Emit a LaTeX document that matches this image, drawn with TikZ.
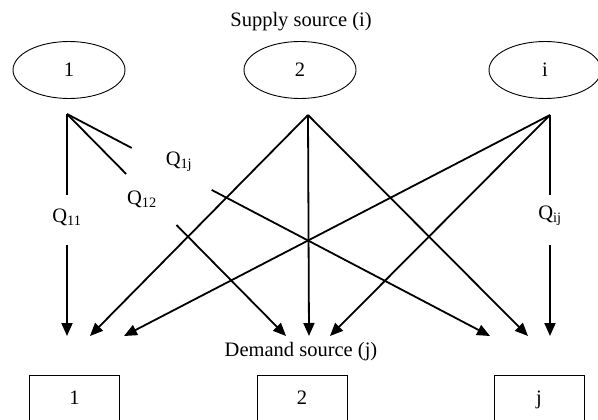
\documentclass[tikz,border=0pt]{standalone}
\usepackage{fontspec}
\setmainfont{Liberation Serif}
\usetikzlibrary{shapes.geometric, arrows.meta, calc}

\begin{document}
\begin{tikzpicture}[x=1pt, y=-1pt, font=\fontsize{20.5}{24}\selectfont]
\tikzstyle{supply} = [ellipse, draw, line width=0.9pt, minimum width=112pt, minimum height=57pt]
\tikzstyle{demand} = [rectangle, draw, line width=1pt, minimum width=90pt, anchor=north, text height=14pt, text depth=20pt, inner ysep=15pt]
\tikzstyle{flow} = [line width=1.8pt]
\tikzstyle{arrow} = [flow, -{Triangle[length=13pt, width=11pt]}]

\clip (0,0) rectangle (598,420);

\node (title) at (301,22) {Supply source (i)};

\node (sup1) [supply] at (69,70) {1};
\node (sup2) [supply] at (300,70) {2};
\node (supi) [supply] at (545,70) {i};

\node (dtitle) at (301,352) {Demand source (j)};

\node (dem1) [demand] at (74.5,375) {1};
\node (dem2) [demand] at (302,375) {2};
\node (demj) [demand] at (539,375) {j};

% flow start and end points
\coordinate (s1) at (67,114);
\coordinate (s2) at (308,115);
\coordinate (si) at (550,115);
\coordinate (t11) at (67,336);
\coordinate (t21) at (90,336);
\coordinate (ti1) at (124,336);
\coordinate (t12) at (286,336);
\coordinate (t22) at (309,336);
\coordinate (ti2) at (330,336);
\coordinate (t1j) at (490,336);
\coordinate (t2j) at (528,336);
\coordinate (tij) at (550,336);

% gaps for the labels
\coordinate (g11a) at ($(s1)!0.365!(t11)$);
\coordinate (g11b) at ($(s1)!0.59!(t11)$);
\coordinate (g12a) at ($(s1)!0.27!(t12)$);
\coordinate (g12b) at ($(s1)!0.5!(t12)$);
\coordinate (g1ja) at ($(s1)!0.153!(t1j)$);
\coordinate (g1jb) at ($(s1)!0.342!(t1j)$);
\coordinate (gija) at ($(si)!0.362!(tij)$);
\coordinate (gijb) at ($(si)!0.588!(tij)$);

\node (q11) at (67,217) {Q\textsubscript{11}};
\node (q12) at (142,199) {Q\textsubscript{12}};
\node (q1j) at (179,162) {Q\textsubscript{1j}};
\node (qij) at (550,216) {Q\textsubscript{ij}};

\draw [flow] (s1) -- (g11a);
\draw [arrow] (g11b) -- (t11);
\draw [flow] (s1) -- (g12a);
\draw [arrow] (g12b) -- (t12);
\draw [flow] (s1) -- (g1ja);
\draw [arrow] (g1jb) -- (t1j);

\draw [arrow] (s2) -- (t21);
\draw [arrow] (s2) -- (t22);
\draw [arrow] (s2) -- (t2j);

\draw [arrow] (si) -- (ti1);
\draw [arrow] (si) -- (ti2);
\draw [flow] (si) -- (gija);
\draw [arrow] (gijb) -- (tij);

\end{tikzpicture}
\end{document}
